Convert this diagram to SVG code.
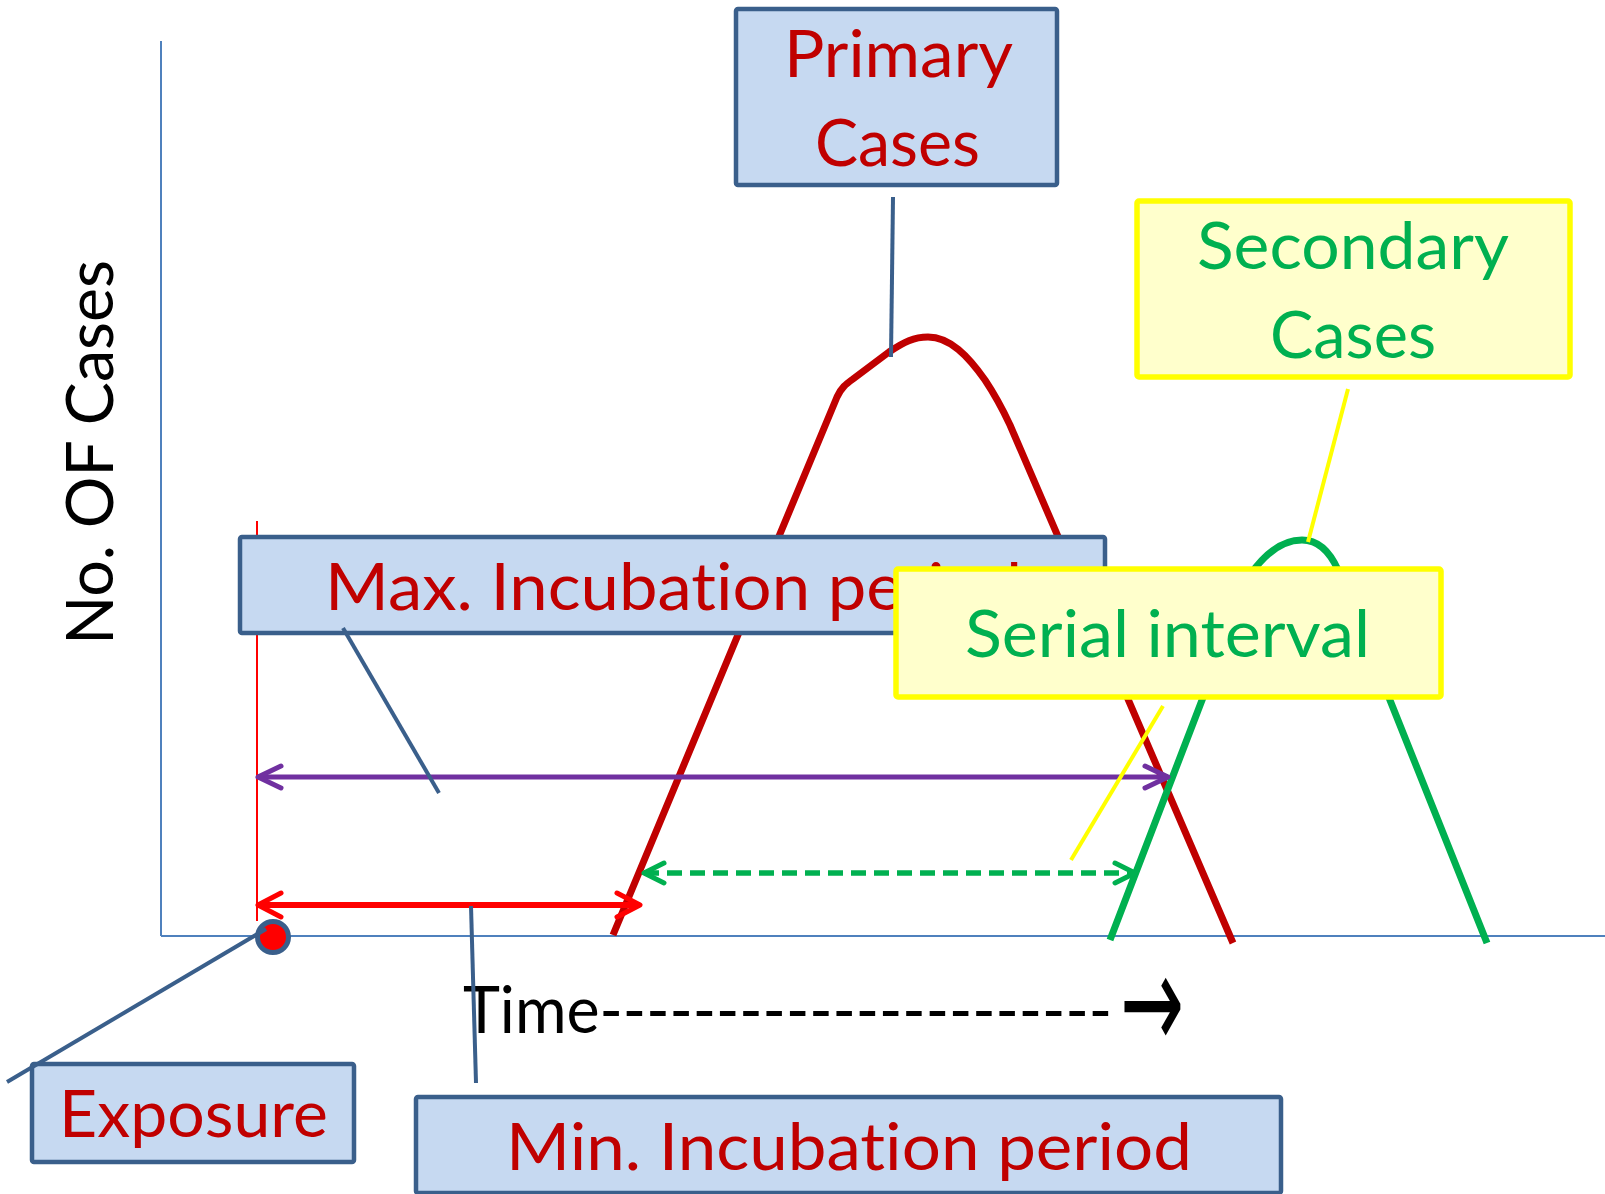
<svg xmlns="http://www.w3.org/2000/svg" width="1605" height="1194" viewBox="0 0 1605 1194">
  <style>
    .lbl { font-family: "Lato", "Liberation Sans", sans-serif; font-size: 65px; font-variant-ligatures: none; font-feature-settings: "liga" 0, "clig" 0; }
    .red { fill: #c00000; }
    .grn { fill: #00b050; }
    .blue-box { fill: #c6d9f1; stroke: #3a5f8b; stroke-width: 4.5; }
    .yel-box { fill: #ffffcc; stroke: #ffff00; stroke-width: 5.5; }
    .callout { stroke: #3a5f8b; stroke-width: 4; fill: none; }
    .callout-y { stroke: #ffff00; stroke-width: 4; fill: none; }
    .axis { stroke: #4f81bd; stroke-width: 2; fill: none; }
    .curve { fill: none; stroke-width: 7; stroke-linejoin: round; }
  </style>
  <defs>
    <marker id="head-purple" markerUnits="userSpaceOnUse" markerWidth="30" markerHeight="30" refX="25" refY="13" orient="auto-start-reverse" overflow="visible">
      <path d="M 2 2 L 25 13 L 2 24" fill="none" stroke="#7030a0" stroke-width="5" stroke-linecap="round" stroke-linejoin="round"/>
    </marker>
    <marker id="head-red" markerUnits="userSpaceOnUse" markerWidth="30" markerHeight="30" refX="25" refY="13" orient="auto-start-reverse" overflow="visible">
      <path d="M 2 1 L 25 13 L 2 25" fill="none" stroke="#ff0000" stroke-width="5" stroke-linecap="round" stroke-linejoin="round"/>
    </marker>
    <marker id="head-green" markerUnits="userSpaceOnUse" markerWidth="30" markerHeight="30" refX="22" refY="11" orient="auto-start-reverse" overflow="visible">
      <path d="M 2 1 L 22 11 L 2 21" fill="none" stroke="#00b050" stroke-width="5" stroke-linecap="round" stroke-linejoin="round"/>
    </marker>
  </defs>

  <rect width="1605" height="1194" fill="#ffffff"/>

  <!-- axes -->
  <g id="axes">
    <line class="axis" x1="161" y1="41" x2="161" y2="936"/>
    <line class="axis" x1="161" y1="936" x2="1605" y2="936"/>
    <text class="lbl" font-size="67" fill="#000" transform="translate(113,645) rotate(-90)" textLength="385" lengthAdjust="spacingAndGlyphs">No. OF Cases</text>
  </g>

  <!-- epidemic curves -->
  <g id="curves">
    <path class="curve" stroke="#c00000" d="M 613 935 L 837 397 C 841 388 846 384 853 379 L 889 352 C 904 342 914 337 928 337 C 950 337 968 356 985 380 C 995 395 1003 410 1010 425 L 1233 943"/>
    <path class="curve" stroke="#00b050" d="M 1110 940 L 1250 575 C 1266 552 1284 540 1302 540 C 1318 540 1330 552 1338 570 L 1487 943"/>
  </g>

  <!-- exposure time marker -->
  <line x1="257" y1="521" x2="257" y2="921" stroke="#ff0000" stroke-width="2"/>

  <!-- interval arrows -->
  <g id="intervals">
    <line x1="258" y1="777" x2="1168" y2="777" stroke="#7030a0" stroke-width="5" marker-start="url(#head-purple)" marker-end="url(#head-purple)"/>
    <line x1="258" y1="905" x2="640" y2="905" stroke="#ff0000" stroke-width="6" marker-start="url(#head-red)" marker-end="url(#head-red)"/>
    <line x1="644" y1="873" x2="1135" y2="873" stroke="#00b050" stroke-width="5.5" stroke-dasharray="15 8" marker-start="url(#head-green)" marker-end="url(#head-green)"/>
  </g>

  <!-- time axis caption -->
  <g id="time-label">
    <text class="lbl" fill="#000" x="463" y="1033" textLength="649" lengthAdjust="spacingAndGlyphs">Time----------------------</text>
    <text x="1120" y="1049" font-family="DejaVu Sans, sans-serif" font-size="135" fill="#000" textLength="64" lengthAdjust="spacingAndGlyphs">→</text>
  </g>

  <!-- nodes -->
  <g id="max-incubation">
    <rect class="blue-box" x="240" y="537" width="865" height="96" rx="2"/>
    <text class="lbl red" x="325" y="610" textLength="697" lengthAdjust="spacingAndGlyphs">Max. Incubation period</text>
  </g>

  <g id="serial-interval">
    <rect class="yel-box" x="896" y="569" width="545" height="128" rx="2"/>
    <text class="lbl grn" x="965" y="657" textLength="405" lengthAdjust="spacingAndGlyphs">Serial interval</text>
  </g>

  <g id="primary-cases">
    <rect class="blue-box" x="736" y="9" width="321" height="176" rx="2"/>
    <text class="lbl red" x="784" y="77" textLength="229" lengthAdjust="spacingAndGlyphs">Primary</text>
    <text class="lbl red" x="815" y="166" textLength="165" lengthAdjust="spacingAndGlyphs">Cases</text>
  </g>

  <g id="secondary-cases">
    <rect class="yel-box" x="1137" y="201" width="433" height="176" rx="2"/>
    <text class="lbl grn" x="1197" y="269" textLength="312" lengthAdjust="spacingAndGlyphs">Secondary</text>
    <text class="lbl grn" x="1270" y="358" textLength="166" lengthAdjust="spacingAndGlyphs">Cases</text>
  </g>

  <g id="exposure">
    <rect class="blue-box" x="32" y="1064" width="322" height="98" rx="2"/>
    <text class="lbl red" x="59" y="1137" textLength="269" lengthAdjust="spacingAndGlyphs">Exposure</text>
  </g>

  <g id="min-incubation">
    <rect class="blue-box" x="416" y="1097" width="865" height="96" rx="2"/>
    <text class="lbl red" x="506" y="1170" textLength="686" lengthAdjust="spacingAndGlyphs">Min. Incubation period</text>
  </g>

  <g id="exposure-point">
    <circle cx="273" cy="937" r="15.5" fill="#ff0000" stroke="#3a5f8b" stroke-width="5"/>
  </g>

  <!-- callout connectors -->
  <g id="connectors">
    <line class="callout" x1="893" y1="197" x2="891" y2="357"/>
    <line class="callout-y" x1="1348" y1="389" x2="1308" y2="542"/>
    <line class="callout" x1="343" y1="628" x2="439" y2="793"/>
    <line class="callout-y" x1="1163" y1="706" x2="1071" y2="860"/>
    <line class="callout" x1="266" y1="929" x2="7" y2="1082"/>
    <line class="callout" x1="471" y1="906" x2="476" y2="1083"/>
  </g>
</svg>
